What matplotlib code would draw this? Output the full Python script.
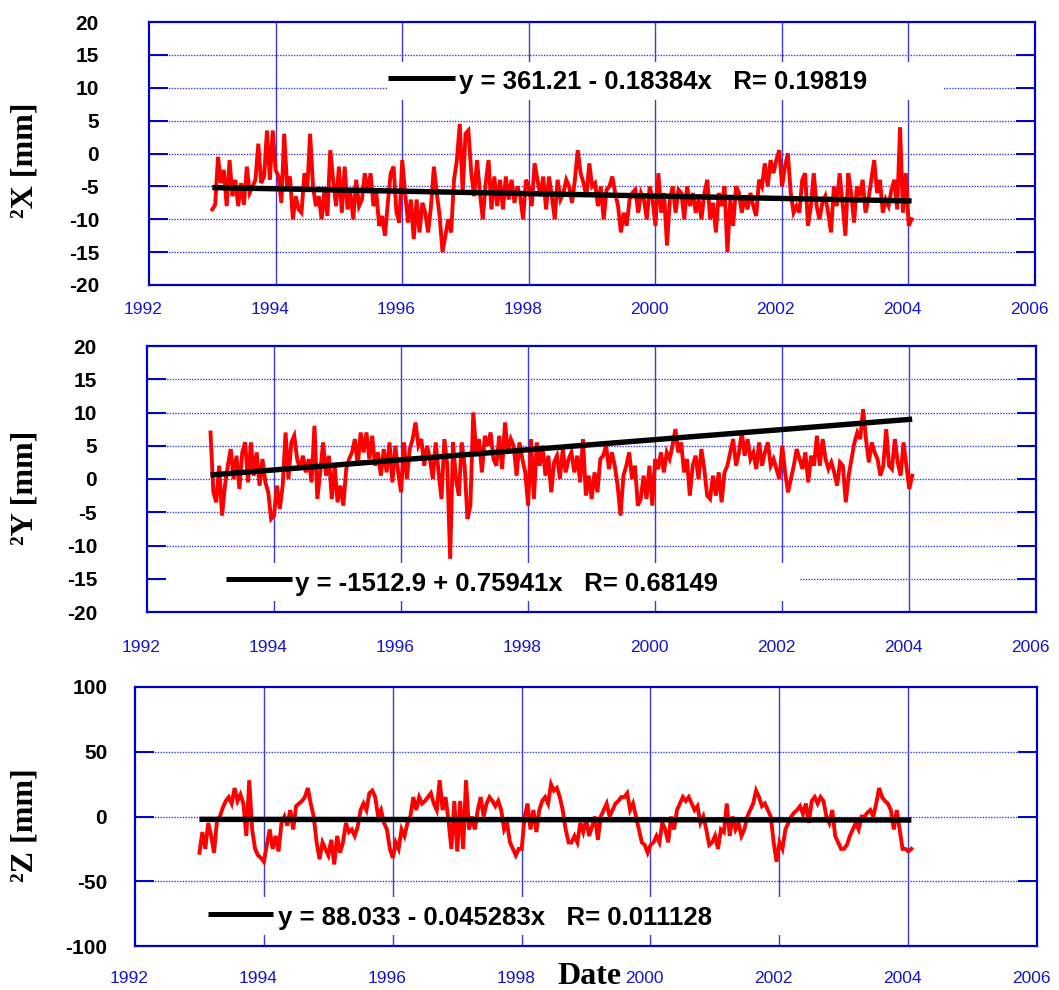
import numpy as np
import matplotlib
matplotlib.use("Agg")
import matplotlib.pyplot as plt
from matplotlib.patches import Rectangle
from matplotlib.transforms import ScaledTranslation

# ---------------- data ----------------
t_start, t_end = 1993.0, 2004.05

dX = [-8.5, -7.8, -0.5, -4.5, -2.5, -8, -1, -6.5, -4, -8, -4.5, -7.8, -2, -6, -5, -4, 1.5, -4.5, -3.5, 3.5, -4, 3.5,
      -2.5, -3.5, -7.5, 3, -5, -3.5, -10, -6.5, -8.5, -9, -3, -5.5, 3, -5, -8, -6.5, -10, -5.5, -9.5, 0.5, -4, -8,
      -2, -9, -2, -8.5, -6, -10, -4, -8, -7, -3, -6, -3, -8, -6, -11, -9.5, -12.5, -7.5, -3, -2, -9, -10.5,
      -1, -6, -10.5, -7, -13, -7, -12, -7.5, -9, -12, -8, -2, -6, -9.5, -15, -12.5, -10, -12, -4, -1, 4.5, -6,
      3, 3.5, -3, -6.5, -1, -6, -10, -4.5, -1, -8.5, -3.5, -8, -4, -8.5, -3.5, -7, -4, -7.5, -5, -6.5, -10, -4,
      -5, -8, -1.5, -4, -6.5, -3.5, -8.5, -3.5, -6.5, -10, -4, -7, -6, -4, -5, -7.5, -4, 0.5, -3, -4.5, -6.5, -1.5,
      -5, -4.5, -8, -5, -10, -5.5, -5, -3.5, -6, -8, -12, -9, -11, -7, -6, -5.5, -9, -6, -7, -10, -5, -7,
      -11, -3, -9, -6, -14, -7, -5, -9, -5.5, -6, -10, -5, -8, -6, -9, -7, -10, -6, -4, -10, -7.5, -12,
      -6, -8, -5, -15, -7, -11, -5, -6, -9, -6.5, -8.5, -6, -8, -9.5, -4, -5, -1.5, -5, -1, -3, -1, 0.5,
      -5, -2, 0, -6, -9, -8, -9, -4, -3, -11, -8, -3, -8, -10, -7.5, -6.5, -9, -12, -5, -8, -3, -7.5,
      -12.5, -3, -6, -10.5, -5, -6.5, -4, -9, -7, -4, -1, -6, -4, -9, -7, -8, -5.5, -4, -8.5, 4, -9, -3,
      -11, -10]

dY = [7, -2, -3.5, 2, -5.5, -1, 2, 4.5, 0, 3.5, -1.5, 4, 5.5, -0.5, 5.5, 0.5, 4, -1, 3, -0.5, -2, -6,
      -5.5, -1, -4.5, -1, 7, 0, 5.5, 6.5, 3, 1.5, 3.5, 1, 3, -0.5, 8, -3, 1, 5.5, 0.5, 3.5, -3, 2,
      -3.5, -1, -4, 1.5, 3, 4, 6, 2, 7, 4, 7, 3, 6.5, 2, 4, 0.5, 4.5, 1, 5.5, -0.5, 5, 1,
      -2, 5.5, 0, 4.5, 6, 8.5, 5, 6, 2, 5, 3, 0, 5.5, 1, -3, 6, 2, -12, 5.5, 0, -2.5, 5.5,
      2, -6, -4, 10, 4, 6, 1, 6.5, 5, 7, 3, 2, 6.5, 1.5, 8.5, 4, 6, 5, 0.5, 5.5, 3, 1,
      -4, 6, -3, 5.5, 2, 5, 0.5, 3.5, -2, 2.5, 3.5, 0, 4.5, 1, 3, 4, 1, 3.5, -0.5, 6, -2.5, 0.5,
      -3, 1, -2, 3, 3.5, 5, 1.5, 4, 2, -1, -5.5, 0.5, 2, 4, 0, 2, -4, -3, 0.5, -3, 2, -4,
      3, 1.5, 4, 1, 4, 3, 5, 7.5, 4, 5.5, 1, 3, -2.5, 2, 3.5, 0, 4.5, 1.5, -2.5, -3, 0.5, -2.5,
      1, -3.5, 1, 2, 4, 6, 2, 4, 7, 3.5, 6, 3, 4, 1.5, 5.5, 2, 4, 5.5, 2, 3, 1.5, 0,
      5, 1, -2, 0, 2, 4.5, 3, 1.5, 4, -0.5, 3.5, 2, 6.5, 2, 6, 3, 1.5, 2.5, 1, -1, 2.5, 2,
      -3.5, 0.5, 3, 5.5, 7, 6, 10.5, 6, 2.5, 5.5, 4, 3, 0.5, 2, 7.5, 2, 1.5, 6, 2.5, 0.5, 5.5, 2,
      -1.5, 0.5]

dZ = [-28, -12, -25, -5, -15, -28, -3, 0, 7, 12, 15, 10, 22, 12, 17, 10, -15, 28, -10, -25, -30, -32,
      -35, -22, -10, -25, -15, -27, -5, 0, -7, 5, -10, 8, 10, 12, 15, 22, 10, 0, -20, -33, -20, -25,
      -30, -18, -37, -15, -28, -20, -5, -12, -10, -15, -8, 5, 10, 5, 18, 20, 15, 0, 5, -5, -10, -25,
      -32, -20, -25, -10, -15, -5, 0, 15, 5, 15, 10, 12, 15, 18, 10, 5, 28, 5, 15, -3, -25, 12,
      -27, 12, -25, 28, -10, 0, -10, 5, 15, 0, 10, 15, 12, 8, 12, 5, -10, -5, -20, -25, -30, -25,
      -25, 0, 10, -10, 5, -12, 5, 12, 15, 10, 25, 20, 22, 15, 5, -10, -20, -20, -15, -20, -5, -12,
      -2, -15, -8, 0, -18, 0, 5, 10, 0, 5, 10, 12, 15, 15, 18, 5, 10, 0, -10, -20, -22, -28,
      -22, -20, -15, -20, -5, -10, -20, 0, -10, 5, 10, 15, 12, 15, 10, 5, 8, -5, 0, -10, -22, -20,
      -15, -25, -10, -12, 10, -15, 0, -10, -5, -15, -10, 0, 5, 10, 20, 15, 8, 10, 5, 0, -20, -35,
      -20, -25, -10, -5, 0, 3, 5, 8, 2, 10, -5, 12, 15, 10, 15, 12, 0, -5, 5, -15, -20, -25,
      -25, -22, -15, -10, -5, -10, 0, 0, 3, 5, 0, 10, 22, 15, 12, 10, 5, -10, 5, -10, -25, -25,
      -27, -25]

# regression coefficients shown in the legends (intercept, slope, R)
fitX = (361.21, -0.18384, 0.19819)
fitY = (-1512.9, 0.75941, 0.68149)
fitZ = (88.033, -0.045283, 0.011128)

labels_txt = ["y = 361.21 - 0.18384x   R= 0.19819",
              "y = -1512.9 + 0.75941x   R= 0.68149",
              "y = 88.033 - 0.045283x   R= 0.011128"]
ylabels = ["²X [mm]", "²Y [mm]", "²Z [mm]"]
xticks = [1992, 1994, 1996, 1998, 2000, 2002, 2004, 2006]
yticks_xy = [-20, -15, -10, -5, 0, 5, 10, 15, 20]
yticks_z = [-100, -50, 0, 50, 100]

# ---------------- figure ----------------
W, H = 1059, 990
fig = plt.figure(figsize=(W / 100, H / 100), dpi=100)

def px_axes(l, r, t, b):
    return fig.add_axes([l / W, 1 - b / H, (r - l) / W, (b - t) / H])

BLUE = "#0000cc"
GRID = "#3a3ad8"
SANS = "Liberation Sans"
SERIF = "Liberation Serif"

panels = [
    dict(box=(149, 1035, 22, 285), data=dX, fit=fitX, yl=(-20, 20), yt=yticks_xy, ypad=36, xpad=12,
         leg_line=(0.2698, 0.3454, 0.787), leg_text=(0.350, 0.745), wbox=(0.2698, 0.703, 0.896, 0.848),
         ylab_y=160),
    dict(box=(147, 1036, 346, 612), data=dY, fit=fitY, yl=(-20, 20), yt=yticks_xy, ypad=36, xpad=20,
         leg_line=(0.0889, 0.1631, 0.124), leg_text=(0.1665, 0.079), wbox=(0.0214, 0.041, 0.7334, 0.184),
         ylab_y=488),
    dict(box=(135, 1037, 687, 946), data=dZ, fit=fitZ, yl=(-100, 100), yt=yticks_z, ypad=20, xpad=18,
         leg_line=(0.0809, 0.153, 0.1236), leg_text=(0.1585, 0.081), wbox=(0.05, 0.042, 0.74, 0.189),
         ylab_y=825),
]

for i, p in enumerate(panels):
    ax = px_axes(*p["box"])
    vals = np.asarray(p["data"], dtype=float)
    t = np.linspace(t_start, t_end, len(vals))
    ax.set_xlim(1992, 2006)
    ax.set_ylim(*p["yl"])
    ax.set_xticks(xticks)
    ax.set_yticks(p["yt"])

    # grid
    for yv in p["yt"][1:-1]:
        ax.axhline(yv, color=GRID, lw=1.0, ls=(0, (1, 1)), zorder=1)
    for xv in xticks[1:-1]:
        ax.axvline(xv, color=GRID, lw=1.0, zorder=1)

    # white legend box covering the grid
    x0, y0, x1, y1 = p["wbox"]
    ax.add_patch(Rectangle((x0, y0), x1 - x0, y1 - y0, transform=ax.transAxes,
                           facecolor="white", edgecolor="none", zorder=1.2))

    # data and trend
    ax.plot(t, vals, color="#ff0000", lw=2.8, zorder=2, solid_joinstyle="miter")
    a, b, r = p["fit"]
    tt = np.array([t_start, t_end])
    ax.plot(tt, a + b * tt, color="black", lw=3.9, zorder=3, solid_capstyle="butt")

    # legend
    lx0, lx1, ly = p["leg_line"]
    ax.plot([lx0, lx1], [ly, ly], transform=ax.transAxes, color="black", lw=3.6, zorder=4,
            solid_capstyle="butt")
    tx, ty = p["leg_text"]
    ax.text(tx, ty, labels_txt[i], transform=ax.transAxes, fontsize=18.5, fontweight="bold",
            family=SANS, va="baseline", ha="left", zorder=5)

    # spines / ticks
    for s in ax.spines.values():
        s.set_color(BLUE)
        s.set_linewidth(1.6)
    ax.tick_params(axis="y", direction="in", length=13.5, width=1.4, color=BLUE,
                   left=True, right=True, pad=p["ypad"])
    ax.tick_params(axis="x", length=0, pad=p["xpad"], colors=BLUE)
    ax.set_yticklabels([str(v) for v in p["yt"]], fontsize=15, fontweight="bold",
                       family=SANS, color="black")
    ax.set_xticklabels([str(v) for v in xticks], fontsize=12.5, family=SANS, color="#1515d0")
    off = ScaledTranslation(-6 / 100, 0, fig.dpi_scale_trans)
    for lab in ax.get_xticklabels():
        lab.set_transform(lab.get_transform() + off)

    fig.text(25 / W, 1 - p["ylab_y"] / H, ylabels[i], rotation=90, fontsize=23,
             fontweight="bold", family=SERIF, ha="center", va="center")

fig.text(590 / W, 1 - 984 / H, "Date", fontsize=23, fontweight="bold", family=SERIF,
         ha="center", va="baseline")

fig.savefig("out.png", dpi=100)
